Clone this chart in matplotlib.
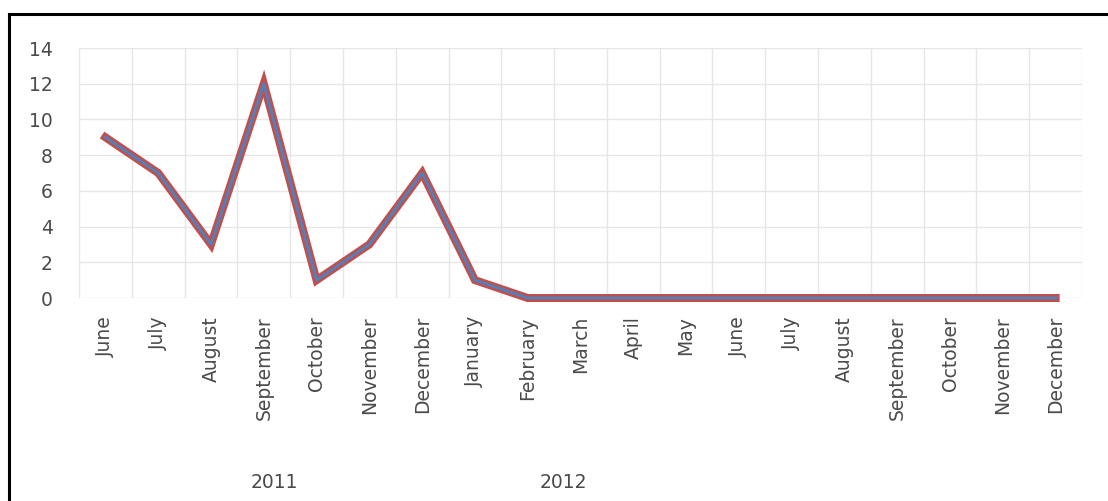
import matplotlib.pyplot as plt
from matplotlib.lines import Line2D
from matplotlib.transforms import blended_transform_factory

months = ["June", "July", "August", "September", "October", "November", "December",
          "January", "February", "March", "April", "May", "June", "July", "August",
          "September", "October", "November", "December"]
counts = [9, 7, 3, 12, 1, 3, 7, 1, 0, 0, 0, 0, 0, 0, 0, 0, 0, 0, 0]
years = ["2011", "2012"]
year_pos = [3.2, 8.68]  # where the year captions sit along the category axis

plt.rcParams['font.family'] = ['DejaVu Sans']
txt = '#4A4A4A'
fs = 13.5

fig = plt.figure(figsize=(11.08, 5.01), dpi=100)
ax = fig.add_axes([79 / 1108, 1 - 298 / 501, (1082 - 79) / 1108, (298 - 48) / 501])

x = list(range(len(months)))
ax.plot(x, counts, color='#C0504D', lw=5.8, solid_joinstyle='miter', clip_on=False, zorder=3)
ax.plot(x, counts, color='#4F81BD', lw=2, clip_on=False, zorder=4)

ax.set_xlim(-0.5, len(months) - 0.5)
ax.set_ylim(0, 14)
ax.set_yticks(range(0, 15, 2))
ax.set_xticks(x)
ax.set_xticklabels(months, rotation=90, fontsize=fs, color=txt)
ax.set_xticks([i - 0.5 for i in range(len(months) + 1)], minor=True)
ax.tick_params(axis='y', length=0, pad=19, labelsize=fs, labelcolor=txt)
ax.tick_params(axis='x', which='both', length=0, pad=13)

ax.grid(True, which='minor', axis='x', color='#E6E6E6', lw=1)
ax.grid(True, which='major', axis='y', color='#E6E6E6', lw=1)
ax.grid(False, which='major', axis='x')
for s in ax.spines.values():
    s.set_visible(False)
ax.set_axisbelow(True)

trans = blended_transform_factory(ax.transData, fig.transFigure)
for yr, px in zip(years, year_pos):
    fig.text(px, 1 - 482 / 501, yr, transform=trans, ha='center', va='center',
             fontsize=fs, color=txt)

# outer frame: only the top and left edges fall inside the image
fig.add_artist(Line2D([9 / 1108, 1.0], [1 - 14 / 501, 1 - 14 / 501],
                      transform=fig.transFigure, color='black', lw=2.2))
fig.add_artist(Line2D([9 / 1108, 9 / 1108], [0, 1 - 14 / 501],
                      transform=fig.transFigure, color='black', lw=2.2))

fig.savefig('out.png', dpi=100, facecolor='white')
